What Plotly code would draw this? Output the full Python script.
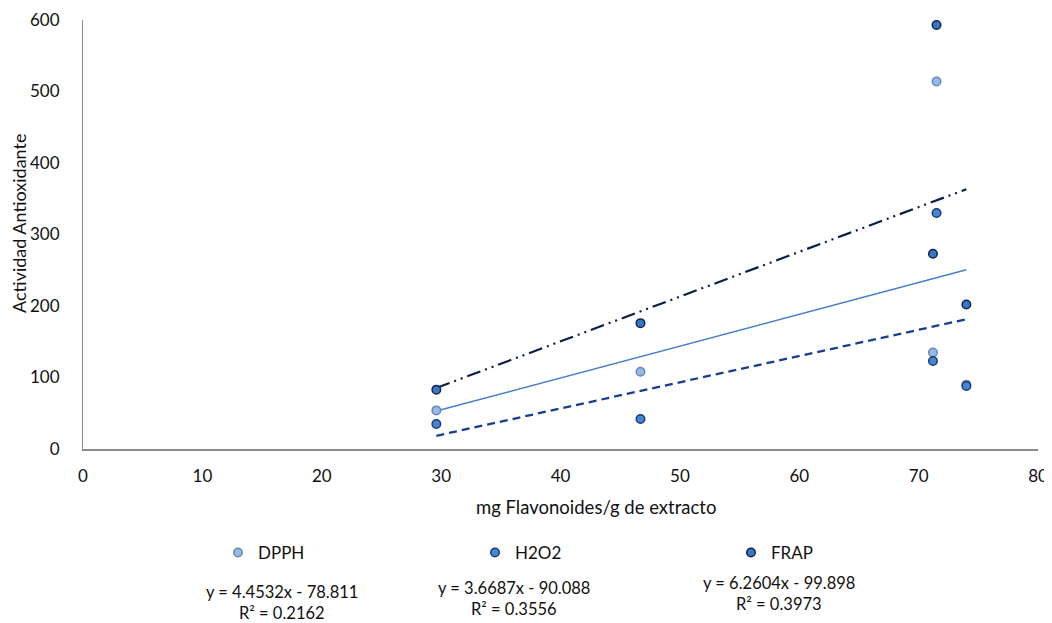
import plotly.graph_objects as go

# Data
x_vals = [29.6, 46.7, 71.2, 71.5, 74.0]
dpph = [54, 108, 135, 514, 90]
h2o2 = [35, 42, 123, 330, 88]
frap = [83, 176, 273, 593, 202]

series_names = ["DPPH", "H2O2", "FRAP"]
slopes = [4.4532, 3.6687, 6.2604]
intercepts = [-78.811, -90.088, -99.898]
r2 = [0.2162, 0.3556, 0.3973]

x_ticks = [0, 10, 20, 30, 40, 50, 60, 70, 80]
y_ticks = [0, 100, 200, 300, 400, 500, 600]

FONT = "Lato, 'Open Sans', sans-serif"
OFF = 8                      # page body margin offset in the screenshot
W, H = 1052 - OFF, 623 - OFF
# plot area in screenshot pixels: x 83..1038, y 20..449
L, T = 83 - OFF, 20 - OFF
R = W - (1038 - OFF)
B = H - (449 - OFF)
PW, PH = W - L - R, H - T - B


def px_x(px):
    return (px - OFF - L) / PW


def px_y(py):
    return (H - B - (py - OFF)) / PH


marker_fill = ["#93bbe9", "#4686d6", "#3a76c6"]
marker_line = ["#6a88b0", "#1d3b6e", "#0f264c"]
line_colors = ["#4a7fd0", "#173f8a", "#0b1e48"]
line_dash = ["solid", "8px,5px", "14px,5px,2px,5px,2px,5px"]
line_width = [1.6, 2.3, 2.2]

fig = go.Figure()

ys = [dpph, h2o2, frap]
xmin, xmax = min(x_vals), max(x_vals)
for i in range(3):
    fig.add_trace(go.Scatter(
        x=[xmin, xmax],
        y=[slopes[i] * xmin + intercepts[i], slopes[i] * xmax + intercepts[i]],
        mode="lines",
        line=dict(color=line_colors[i], width=line_width[i], dash=line_dash[i]),
        showlegend=False, hoverinfo="skip"))

legend_ids = ["legend", "legend2", "legend3"]
for i in range(3):
    fig.add_trace(go.Scatter(
        x=x_vals, y=ys[i], mode="markers", name=series_names[i],
        legend=legend_ids[i],
        marker=dict(size=8.5, color=marker_fill[i],
                    line=dict(color=marker_line[i], width=1.5))))

# equation annotation positions (screenshot pixels)
eq_px = [282, 514, 779]
eq_py = [592, 588, 583]
for i in range(3):
    sign = "-" if intercepts[i] < 0 else "+"
    fig.add_annotation(
        x=px_x(eq_px[i]), y=px_y(eq_py[i]), xref="paper", yref="paper",
        xanchor="center", yanchor="middle", showarrow=False,
        text=f"y = {slopes[i]}x {sign} {abs(intercepts[i])}",
        font=dict(family=FONT, size=16.5, color="#111"))
    fig.add_annotation(
        x=px_x(eq_px[i]), y=px_y(eq_py[i] + 21), xref="paper", yref="paper",
        xanchor="center", yanchor="middle", showarrow=False,
        text=f"R² = {r2[i]:.4f}",
        font=dict(family=FONT, size=16.5, color="#111"))

fig.add_annotation(
    x=px_x(596), y=px_y(507), xref="paper", yref="paper",
    xanchor="center", yanchor="middle", showarrow=False,
    text="mg Flavonoides/g de extracto",
    font=dict(family=FONT, size=18.5, color="#111"))

fig.add_annotation(
    x=px_x(19), y=px_y(224), xref="paper", yref="paper",
    xanchor="center", yanchor="middle", showarrow=False, textangle=-90,
    text="Actividad Antioxidante",
    font=dict(family=FONT, size=18, color="#111"))

legend_px = [238, 495, 751]
legend_py = 553
legend_common = dict(orientation="h", xref="container", yref="container",
                     xanchor="left", yanchor="middle",
                     font=dict(size=17, family=FONT, color="#111"),
                     bgcolor="rgba(0,0,0,0)")

fig.update_layout(
    width=W, height=H,
    margin=dict(l=L, r=R, t=T, b=B, autoexpand=False),
    paper_bgcolor="white", plot_bgcolor="white",
    font=dict(family=FONT, color="#111"),
    xaxis=dict(range=[0, 80], tickvals=x_ticks, showgrid=False, zeroline=False,
               showline=True, linecolor="#8c8c8c", linewidth=1.5,
               ticks="", ticklabelstandoff=11, automargin=False,
               tickfont=dict(size=17, family=FONT)),
    yaxis=dict(range=[0, 600], tickvals=y_ticks, showgrid=False, zeroline=False,
               showline=True, linecolor="#8c8c8c", linewidth=1,
               ticks="", ticklabelstandoff=19, automargin=False,
               tickfont=dict(size=17, family=FONT)),
    showlegend=True,
)
for i, lid in enumerate(legend_ids):
    fig.update_layout({lid: dict(legend_common,
                                 x=(legend_px[i] - OFF - 20) / W,
                                 y=1 - (legend_py - OFF) / H)})

fig.write_html("out.html")
